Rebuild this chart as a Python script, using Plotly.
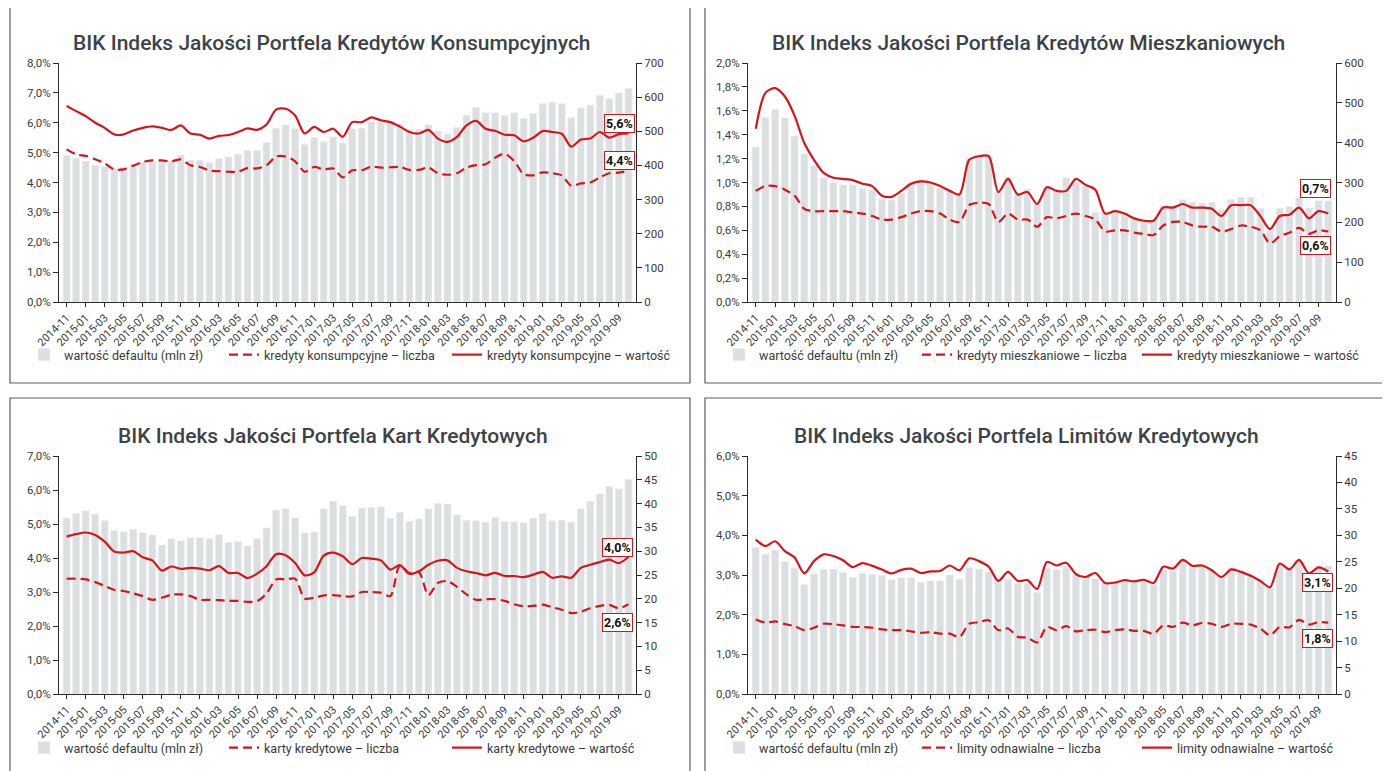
import plotly.graph_objects as go

# page body has an 8px margin: the figure is drawn 8px in from the top-left corner
OFF = 8
W, H = 1390 - OFF, 771 - OFF

# ---------------- data ----------------
months = []
y, m = 2014, 11
for _ in range(60):
    months.append(f"{y}-{m:02d}")
    m += 1
    if m > 12:
        m = 1
        y += 1
tick_labels = months[::2]

kons_bars = [430,421,412,400,396,390,395,405,410,412,415,413,430,415,415,408,420,425,433,444,
             444,467,509,519,508,461,482,470,484,466,507,509,528,527,530,520,505,505,519,501,
             492,511,547,570,554,554,547,554,537,552,581,584,581,540,568,577,605,595,612,625]
kons_val = [6.56,6.39,6.22,6.0,5.83,5.61,5.61,5.74,5.83,5.88,5.83,5.76,5.91,5.64,5.6,5.47,5.56,5.59,5.69,5.81,
            5.76,5.94,6.44,6.47,6.24,5.64,5.86,5.69,5.8,5.53,6.02,6.02,6.18,6.08,6.02,5.87,5.69,5.64,5.76,5.47,
            5.36,5.53,5.91,6.06,5.8,5.73,5.6,5.58,5.38,5.5,5.72,5.69,5.63,5.2,5.44,5.47,5.69,5.5,5.62,5.64]
kons_cnt = [5.11,4.94,4.89,4.78,4.64,4.44,4.44,4.56,4.69,4.74,4.74,4.71,4.77,4.58,4.52,4.4,4.38,4.36,4.36,4.48,
            4.47,4.58,4.87,4.87,4.71,4.36,4.52,4.44,4.47,4.17,4.41,4.41,4.53,4.5,4.51,4.52,4.42,4.42,4.5,4.31,
            4.26,4.31,4.5,4.58,4.61,4.83,4.96,4.72,4.28,4.24,4.34,4.31,4.24,3.89,3.97,4.0,4.17,4.31,4.33,4.39]

mieszk_bars = [389,463,483,462,417,372,342,311,300,294,294,285,282,259,256,273,296,308,300,287,
               279,267,360,365,368,275,314,273,283,246,290,283,312,300,292,225,225,225,221,212,
               204,204,242,243,257,250,248,250,232,257,263,263,235,179,235,239,262,236,254,254]
mieszk_val = [1.45,1.75,1.79,1.72,1.56,1.33,1.19,1.08,1.04,1.03,1.02,0.99,0.97,0.89,0.88,0.93,0.99,1.01,1.0,0.97,
              0.93,0.9,1.19,1.22,1.22,0.92,1.03,0.9,0.92,0.82,0.96,0.93,0.93,1.03,0.98,0.94,0.74,0.76,0.74,0.7,
              0.68,0.68,0.79,0.79,0.82,0.79,0.79,0.78,0.72,0.81,0.81,0.81,0.72,0.61,0.72,0.73,0.79,0.7,0.76,0.74]
mieszk_cnt = [0.93,0.97,0.97,0.94,0.89,0.78,0.76,0.76,0.76,0.76,0.75,0.74,0.72,0.69,0.69,0.71,0.74,0.76,0.76,0.74,
              0.69,0.67,0.81,0.83,0.82,0.67,0.74,0.69,0.69,0.63,0.71,0.7,0.72,0.74,0.72,0.69,0.59,0.6,0.6,0.58,
              0.57,0.56,0.64,0.67,0.67,0.64,0.63,0.63,0.59,0.61,0.64,0.63,0.6,0.49,0.55,0.58,0.62,0.57,0.6,0.59]

karty_bars = [37.0,37.9,38.5,37.8,36.4,34.3,34.1,34.6,33.9,33.4,31.3,32.6,32.2,32.8,32.8,32.6,33.5,31.9,32.0,31.1,
              32.6,34.9,38.6,38.9,37.0,33.8,34.0,38.9,40.5,39.6,37.3,39.0,39.2,39.3,36.9,38.2,36.3,36.8,38.9,40.0,
              39.9,37.6,36.5,36.4,36.1,37.1,36.2,36.2,36.0,36.9,37.9,36.4,36.5,36.1,38.9,40.5,42.0,43.6,43.1,45.1]
karty_val = [4.63,4.7,4.75,4.68,4.48,4.19,4.16,4.2,4.02,3.93,3.63,3.75,3.68,3.71,3.69,3.64,3.76,3.56,3.56,3.41,
             3.54,3.76,4.11,4.08,3.85,3.49,3.58,4.07,4.16,4.05,3.82,4.0,3.98,3.93,3.66,3.79,3.53,3.61,3.8,3.92,
             3.93,3.71,3.61,3.56,3.49,3.56,3.47,3.47,3.44,3.51,3.59,3.42,3.46,3.42,3.71,3.8,3.88,3.95,3.85,4.03]
karty_cnt = [3.39,3.39,3.37,3.29,3.18,3.06,3.03,2.96,2.88,2.77,2.83,2.92,2.93,2.88,2.77,2.77,2.76,2.74,2.74,2.71,
             2.73,2.96,3.37,3.37,3.39,2.81,2.83,2.9,2.91,2.88,2.87,3.0,3.0,2.98,2.88,3.78,3.56,3.58,2.91,3.27,
             3.32,3.15,2.93,2.77,2.79,2.79,2.74,2.64,2.58,2.59,2.63,2.55,2.48,2.38,2.42,2.52,2.59,2.62,2.52,2.64]

limity_bars = [27.7,26.4,27.2,25.0,23.8,20.7,22.7,23.6,23.6,23.0,22.0,22.8,22.6,22.4,21.6,22.0,22.0,21.1,21.4,21.4,
               22.5,21.7,23.9,23.6,23.1,21.2,21.7,20.9,20.9,19.2,23.8,23.5,24.2,22.5,22.2,21.8,21.1,20.9,21.4,21.2,
               21.4,20.7,23.5,23.3,25.2,24.1,24.2,23.3,22.3,23.9,23.3,22.7,21.7,20.2,24.5,23.6,25.2,22.7,24.3,24.2]
limity_val = [3.89,3.73,3.85,3.6,3.44,3.04,3.35,3.52,3.48,3.37,3.2,3.3,3.23,3.14,3.04,3.13,3.16,3.05,3.09,3.1,
              3.24,3.12,3.42,3.35,3.21,2.85,3.08,2.85,2.87,2.65,3.33,3.24,3.31,3.02,2.95,3.05,2.8,2.81,2.87,2.84,
              2.88,2.8,3.21,3.16,3.38,3.23,3.24,3.12,2.95,3.14,3.08,2.98,2.85,2.69,3.29,3.14,3.38,3.04,3.19,3.09]
limity_cnt = [1.88,1.8,1.83,1.76,1.71,1.61,1.67,1.77,1.76,1.73,1.69,1.69,1.67,1.63,1.61,1.61,1.58,1.54,1.56,1.52,
              1.52,1.44,1.77,1.81,1.86,1.61,1.65,1.44,1.42,1.3,1.69,1.61,1.71,1.58,1.61,1.62,1.56,1.61,1.63,1.59,
              1.59,1.52,1.73,1.69,1.8,1.73,1.79,1.77,1.69,1.77,1.77,1.75,1.65,1.48,1.69,1.68,1.87,1.75,1.81,1.8]

titles = ["BIK Indeks Jakości Portfela Kredytów Konsumpcyjnych",
          "BIK Indeks Jakości Portfela Kredytów Mieszkaniowych",
          "BIK Indeks Jakości Portfela Kart Kredytowych",
          "BIK Indeks Jakości Portfela Limitów Kredytowych"]
bar_names = ["wartość defaultu (mln zł)"] * 4
cnt_names = ["kredyty konsumpcyjne – liczba", "kredyty mieszkaniowe – liczba",
             "karty kredytowe – liczba", "limity odnawialne – liczba"]
val_names = ["kredyty konsumpcyjne – wartość", "kredyty mieszkaniowe – wartość",
             "karty kredytowe – wartość", "limity odnawialne – wartość"]
end_labels_val = ["5,6%", "0,7%", "4,0%", "3,1%"]
end_labels_cnt = ["4,4%", "0,6%", "2,6%", "1,8%"]

bars_all = [kons_bars, mieszk_bars, karty_bars, limity_bars]
vals_all = [kons_val, mieszk_val, karty_val, limity_val]
cnts_all = [kons_cnt, mieszk_cnt, karty_cnt, limity_cnt]

left_max = [8.0, 2.0, 7.0, 6.0]
left_step = [1.0, 0.2, 1.0, 1.0]
right_max = [700, 600, 50, 45]
right_step = [100, 100, 5, 5]

# ---------------- layout geometry (window pixels) ----------------
plot_boxes = [(59, 636, 63, 302), (748, 1336, 63, 302), (59, 636, 456, 694), (748, 1336, 456, 694)]
panel_boxes = [(10, 7, 690, 383), (705, 7, 1389, 383), (10, 398, 690, 790), (705, 398, 1389, 790)]
title_pos = [(332, 43), (1028, 43), (333, 436), (1027, 436)]
legend_y = [355, 355, 748, 748]
legend_text_x = [(65, 265, 488), (760, 958, 1178), (65, 265, 488), (760, 958, 1178)]
lab_val_pos = [(58.1, 5.96), (57.7, 0.946), (57.9, 4.32), (57.9, 2.80)]
lab_cnt_pos = [(58.1, 4.75), (57.7, 0.477), (57.9, 2.09), (57.9, 1.41)]

RED = "#d5141b"
BAR = "#dcdfe0"
AX = "#2b2b2b"
TXT = "#3a3a3a"
FONT = "Roboto"

def px(xp):
    return (xp - OFF) / W

def py(yp):
    return 1 - (yp - OFF) / H

fig = go.Figure()
layout = dict(width=W, height=H, margin=dict(l=0, r=0, t=0, b=0, autoexpand=False),
              paper_bgcolor="white", plot_bgcolor="rgba(0,0,0,0)",
              font=dict(family=FONT, color=TXT, size=11),
              bargap=0.28, showlegend=True)
shapes = []
annotations = []
xidx = list(range(60))
leg_counter = [0]

def new_legend(xtext, ycenter):
    leg_counter[0] += 1
    n = leg_counter[0]
    name = "legend" if n == 1 else f"legend{n}"
    layout[name] = dict(orientation="h", x=px(xtext - 41), y=py(ycenter), xanchor="left",
                        yanchor="middle", font=dict(size=12.5, color=TXT, family=FONT),
                        bgcolor="rgba(0,0,0,0)", itemwidth=30, borderwidth=0)
    return name

for k in range(4):
    sfx = "" if k == 0 else str(k + 1)
    xa = "x" + sfx
    yb = "y" + ("" if k == 0 else str(2 * k + 1))
    yl = "y" + str(2 * k + 2)
    x0, x1, ytop, ybot = plot_boxes[k]
    tx1, tx2, tx3 = legend_text_x[k]

    fig.add_trace(go.Bar(x=xidx, y=bars_all[k], name=bar_names[k], marker_color=BAR,
                         xaxis=xa, yaxis=yb, legend=new_legend(tx1, legend_y[k]), hoverinfo="skip"))
    fig.add_trace(go.Scatter(x=xidx, y=cnts_all[k], name=cnt_names[k], mode="lines",
                             line=dict(color=RED, width=2.2, dash="9px,5px", shape="spline", smoothing=0.8),
                             xaxis=xa, yaxis=yl, legend=new_legend(tx2, legend_y[k])))
    fig.add_trace(go.Scatter(x=xidx, y=vals_all[k], name=val_names[k], mode="lines",
                             line=dict(color=RED, width=2.2, shape="spline", smoothing=0.8),
                             xaxis=xa, yaxis=yl, legend=new_legend(tx3, legend_y[k])))

    xkey = "xaxis" + sfx
    ybkey = "yaxis" + ("" if k == 0 else str(2 * k + 1))
    ylkey = "yaxis" + str(2 * k + 2)

    layout[xkey] = dict(domain=[px(x0), px(x1)], anchor=yb, range=[-0.8, 59.8],
                        tickmode="array", tickvals=xidx[::2], ticktext=tick_labels,
                        tickangle=-45, tickfont=dict(size=11, color=TXT, family=FONT),
                        showline=True, linecolor=AX, linewidth=1, ticks="outside",
                        ticklen=4, tickcolor=AX, showgrid=False, zeroline=False,
                        automargin=False)
    rticks = [i * right_step[k] for i in range(int(round(right_max[k] / right_step[k])) + 1)]
    layout[ybkey] = dict(domain=[py(ybot), py(ytop)], anchor=xa, side="right",
                         range=[0, right_max[k]], tickmode="array", tickvals=rticks,
                         ticktext=[str(v) for v in rticks],
                         tickfont=dict(size=11.5, color=TXT, family=FONT),
                         showline=True, linecolor=AX, linewidth=1, ticks="outside", ticklen=5,
                         tickcolor=AX, showgrid=False, zeroline=False, automargin=False)
    n = int(round(left_max[k] / left_step[k]))
    lticks = [round(i * left_step[k], 2) for i in range(n + 1)]
    layout[ylkey] = dict(overlaying=yb, anchor=xa, side="left", range=[0, left_max[k]],
                         tickmode="array", tickvals=lticks,
                         ticktext=[f"{v:.1f}%".replace(".", ",") for v in lticks],
                         tickfont=dict(size=11.5, color=TXT, family=FONT),
                         showline=True, linecolor=AX, linewidth=1, ticks="outside", ticklen=5,
                         tickcolor=AX, showgrid=False, zeroline=False, automargin=False)

    bx0, by0, bx1, by1 = panel_boxes[k]
    shapes.append(dict(type="rect", xref="paper", yref="paper", x0=px(bx0), x1=px(bx1),
                       y0=py(by1), y1=py(by0), line=dict(color="#5a5e62", width=1.2),
                       fillcolor="rgba(0,0,0,0)", layer="below"))

    tx, ty = title_pos[k]
    annotations.append(dict(text=titles[k], xref="paper", yref="paper", x=px(tx), y=py(ty),
                            xanchor="center", yanchor="middle", showarrow=False,
                            font=dict(size=21, color="#3c4247", family=FONT, weight=500)))

    for (lxv, lyv), txt in ((lab_val_pos[k], end_labels_val[k]), (lab_cnt_pos[k], end_labels_cnt[k])):
        annotations.append(dict(text="<b>" + txt + "</b>", xref=xa, yref=yl, x=lxv, y=lyv,
                                xanchor="center", yanchor="middle", showarrow=False,
                                font=dict(size=12.5, color="#111111", family=FONT),
                                bgcolor="white", bordercolor=RED, borderwidth=1, borderpad=1))

layout["shapes"] = shapes
layout["annotations"] = annotations
fig.update_layout(**layout)
fig.write_html("out.html")
